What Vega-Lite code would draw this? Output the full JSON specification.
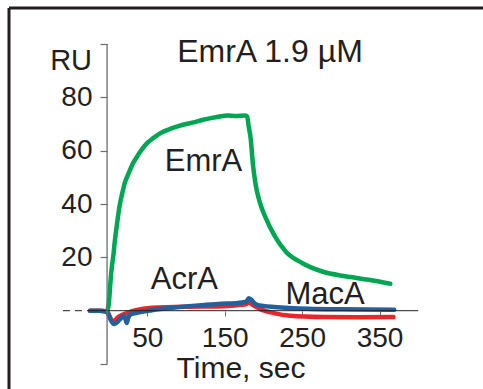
{
  "$schema": "https://vega.github.io/schema/vega-lite/v6.json",
  "width": 474,
  "height": 381,
  "padding": {"left": 9, "top": 8, "right": 0, "bottom": 0},
  "autosize": {"type": "none"},
  "background": "white",
  "config": {"view": {"stroke": null}, "font": "Liberation Sans"},
  "data": {"values": [{}]},
  "datasets": {
    "curves": [
      {"series": "AcrA", "t": -24, "ru": 0}, {"series": "AcrA", "t": -12, "ru": 0}, {"series": "AcrA", "t": -2, "ru": -0.3},
      {"series": "AcrA", "t": 2, "ru": -2.5}, {"series": "AcrA", "t": 4.7, "ru": -4}, {"series": "AcrA", "t": 8, "ru": -3.6},
      {"series": "AcrA", "t": 12, "ru": -2.5}, {"series": "AcrA", "t": 17.7, "ru": -1.5}, {"series": "AcrA", "t": 25, "ru": -0.7},
      {"series": "AcrA", "t": 35, "ru": 0.2}, {"series": "AcrA", "t": 56, "ru": 1.1}, {"series": "AcrA", "t": 99.5, "ru": 1.5},
      {"series": "AcrA", "t": 142, "ru": 1.6}, {"series": "AcrA", "t": 170, "ru": 2.2}, {"series": "AcrA", "t": 178, "ru": 2.5},
      {"series": "AcrA", "t": 181, "ru": 3.1}, {"series": "AcrA", "t": 186, "ru": 2.2}, {"series": "AcrA", "t": 196, "ru": 0.6},
      {"series": "AcrA", "t": 213.6, "ru": -0.9}, {"series": "AcrA", "t": 235, "ru": -1.9}, {"series": "AcrA", "t": 278, "ru": -2.4},
      {"series": "AcrA", "t": 321, "ru": -2.5}, {"series": "AcrA", "t": 368, "ru": -2.4},
      {"series": "MacA", "t": -24, "ru": 0}, {"series": "MacA", "t": -12.5, "ru": 0}, {"series": "MacA", "t": -2, "ru": -0.5},
      {"series": "MacA", "t": 2.6, "ru": -3.4}, {"series": "MacA", "t": 7, "ru": -5}, {"series": "MacA", "t": 10, "ru": -4.6},
      {"series": "MacA", "t": 13.4, "ru": -3.6}, {"series": "MacA", "t": 17, "ru": -2.5}, {"series": "MacA", "t": 20, "ru": -2},
      {"series": "MacA", "t": 22, "ru": -3.5}, {"series": "MacA", "t": 23.5, "ru": -4.6}, {"series": "MacA", "t": 25, "ru": -3},
      {"series": "MacA", "t": 28, "ru": -1.5}, {"series": "MacA", "t": 33, "ru": -1}, {"series": "MacA", "t": 39, "ru": -0.6},
      {"series": "MacA", "t": 56, "ru": 0.2}, {"series": "MacA", "t": 82, "ru": 1.1}, {"series": "MacA", "t": 112, "ru": 1.9},
      {"series": "MacA", "t": 142, "ru": 2.5}, {"series": "MacA", "t": 173, "ru": 3.1}, {"series": "MacA", "t": 178, "ru": 3.4},
      {"series": "MacA", "t": 181, "ru": 4.7}, {"series": "MacA", "t": 184, "ru": 4.2}, {"series": "MacA", "t": 188, "ru": 2.9},
      {"series": "MacA", "t": 192, "ru": 2.2}, {"series": "MacA", "t": 200, "ru": 1.8}, {"series": "MacA", "t": 213.6, "ru": 1.4},
      {"series": "MacA", "t": 257, "ru": 0.7}, {"series": "MacA", "t": 300, "ru": 0.5}, {"series": "MacA", "t": 369, "ru": 0.4},
      {"series": "EmrA", "t": -2, "ru": 0}, {"series": "EmrA", "t": 0, "ru": 2}, {"series": "EmrA", "t": 2.6, "ru": 11.6},
      {"series": "EmrA", "t": 4, "ru": 16}, {"series": "EmrA", "t": 6, "ru": 20.4}, {"series": "EmrA", "t": 8, "ru": 26},
      {"series": "EmrA", "t": 11, "ru": 32.9}, {"series": "EmrA", "t": 14, "ru": 39}, {"series": "EmrA", "t": 17.6, "ru": 44},
      {"series": "EmrA", "t": 21, "ru": 48}, {"series": "EmrA", "t": 26, "ru": 51.6}, {"series": "EmrA", "t": 31, "ru": 55},
      {"series": "EmrA", "t": 37, "ru": 57.9}, {"series": "EmrA", "t": 43, "ru": 60.5}, {"series": "EmrA", "t": 50, "ru": 62.9},
      {"series": "EmrA", "t": 58, "ru": 64.8}, {"series": "EmrA", "t": 67, "ru": 66.6}, {"series": "EmrA", "t": 78, "ru": 68},
      {"series": "EmrA", "t": 89, "ru": 69.1}, {"series": "EmrA", "t": 100, "ru": 70}, {"series": "EmrA", "t": 110, "ru": 70.6},
      {"series": "EmrA", "t": 121, "ru": 71.5}, {"series": "EmrA", "t": 132, "ru": 72.2}, {"series": "EmrA", "t": 143, "ru": 72.8},
      {"series": "EmrA", "t": 153, "ru": 73.2}, {"series": "EmrA", "t": 165, "ru": 73.0}, {"series": "EmrA", "t": 176, "ru": 73.2},
      {"series": "EmrA", "t": 179, "ru": 72.9}, {"series": "EmrA", "t": 181, "ru": 69}, {"series": "EmrA", "t": 183.5, "ru": 64.7},
      {"series": "EmrA", "t": 186.5, "ru": 54.7}, {"series": "EmrA", "t": 190, "ru": 47.2}, {"series": "EmrA", "t": 195, "ru": 41},
      {"series": "EmrA", "t": 203, "ru": 34.8}, {"series": "EmrA", "t": 213.6, "ru": 28.5}, {"series": "EmrA", "t": 228.7, "ru": 22.2},
      {"series": "EmrA", "t": 250, "ru": 17.9}, {"series": "EmrA", "t": 276, "ru": 14.7}, {"series": "EmrA", "t": 306, "ru": 12.9},
      {"series": "EmrA", "t": 336, "ru": 11.6}, {"series": "EmrA", "t": 364, "ru": 10.1}
    ]
  },
  "layer": [
    {
      "data": {"name": "curves"},
      "mark": {"type": "line", "strokeWidth": 4.5, "strokeCap": "round", "strokeJoin": "round", "interpolate": "monotone"},
      "encoding": {
        "x": {
          "field": "t", "type": "quantitative",
          "scale": {"domain": [-128.7, 483.7], "nice": false, "zero": false},
          "axis": {
            "orient": "bottom", "offset": -78, "values": [50, 150, 250, 350], "domain": false, "grid": false,
            "tickSize": 5, "tickColor": "#6d6e71", "tickWidth": 1,
            "labelFontSize": 28, "labelColor": "#231f20", "labelBaseline": "alphabetic", "labelPadding": 30,
            "labelOverlap": false, "labelFlush": false, "labelFont": "Liberation Sans", "title": null
          }
        },
        "y": {
          "field": "ru", "type": "quantitative",
          "scale": {"domain": [-29.36, 113.5], "nice": false, "zero": false},
          "axis": {
            "orient": "left", "offset": -98, "values": [-20, 20, 40, 60, 80, 100], "domain": false, "grid": false,
            "tickSize": 7, "tickColor": "#6d6e71", "tickWidth": 1.2,
            "labelExpr": "datum.value > 0 && datum.value < 100 ? datum.label : ''",
            "labelFontSize": 28, "labelColor": "#231f20", "labelPadding": 8,
            "labelOverlap": false, "labelFlush": false, "labelFont": "Liberation Sans", "title": null
          }
        },
        "color": {
          "field": "series", "type": "nominal",
          "scale": {"domain": ["AcrA", "MacA", "EmrA"], "range": ["#e8262c", "#22609e", "#00a651"]},
          "legend": null
        },
        "order": {"field": "t", "type": "quantitative"}
      }
    },
    {
      "mark": {"type": "rule", "stroke": "#231f20", "strokeWidth": 3},
      "encoding": {
        "x": {"datum": -128.7, "type": "quantitative"},
        "y": {"datum": -29.36, "type": "quantitative"},
        "y2": {"datum": 113.5}
      }
    },
    {
      "mark": {"type": "rule", "stroke": "#231f20", "strokeWidth": 3},
      "encoding": {
        "x": {"datum": -128.7, "type": "quantitative"},
        "x2": {"datum": 483.7},
        "y": {"datum": 113.5, "type": "quantitative"}
      }
    },
    {
      "mark": {"type": "rule", "stroke": "#231f20", "strokeWidth": 1, "strokeDash": [7, 5]},
      "encoding": {
        "x": {"datum": -59, "type": "quantitative"},
        "x2": {"datum": -24},
        "y": {"datum": 0, "type": "quantitative"}
      }
    },
    {
      "mark": {"type": "rule", "stroke": "#231f20", "strokeWidth": 1},
      "encoding": {
        "x": {"datum": -24, "type": "quantitative"},
        "x2": {"datum": 400},
        "y": {"datum": 0, "type": "quantitative"}
      }
    },
    {
      "mark": {"type": "rule", "stroke": "#6d6e71", "strokeWidth": 1.3},
      "encoding": {
        "x": {"datum": -2, "type": "quantitative"},
        "y": {"datum": -20, "type": "quantitative"},
        "y2": {"datum": 100}
      }
    },
    {
      "data": {"values": [{"text": "EmrA 1.9 µM", "t": 208.5, "ru": 93.3}]},
      "mark": {"type": "text", "fontSize": 32, "font": "Liberation Sans", "color": "#231f20", "align": "center", "baseline": "alphabetic"},
      "encoding": {"x": {"field": "t", "type": "quantitative"}, "y": {"field": "ru", "type": "quantitative"}, "text": {"field": "text"}}
    },
    {
      "data": {"values": [{"text": "RU", "t": -21.4, "ru": 90.3}]},
      "mark": {"type": "text", "fontSize": 29, "font": "Liberation Sans", "color": "#231f20", "align": "right", "baseline": "alphabetic"},
      "encoding": {"x": {"field": "t", "type": "quantitative"}, "y": {"field": "ru", "type": "quantitative"}, "text": {"field": "text"}}
    },
    {
      "data": {"values": [{"text": "Time, sec", "t": 171, "ru": -25.4}]},
      "mark": {"type": "text", "fontSize": 30, "font": "Liberation Sans", "color": "#231f20", "align": "center", "baseline": "alphabetic"},
      "encoding": {"x": {"field": "t", "type": "quantitative"}, "y": {"field": "ru", "type": "quantitative"}, "text": {"field": "text"}}
    },
    {
      "data": {"values": [{"text": "EmrA", "t": 122.6, "ru": 52.4}, {"text": "AcrA", "t": 98, "ru": 8.1}, {"text": "MacA", "t": 279.6, "ru": 2.5}]},
      "mark": {"type": "text", "fontSize": 31, "font": "Liberation Sans", "color": "#231f20", "align": "center", "baseline": "alphabetic"},
      "encoding": {"x": {"field": "t", "type": "quantitative"}, "y": {"field": "ru", "type": "quantitative"}, "text": {"field": "text"}}
    }
  ]
}
